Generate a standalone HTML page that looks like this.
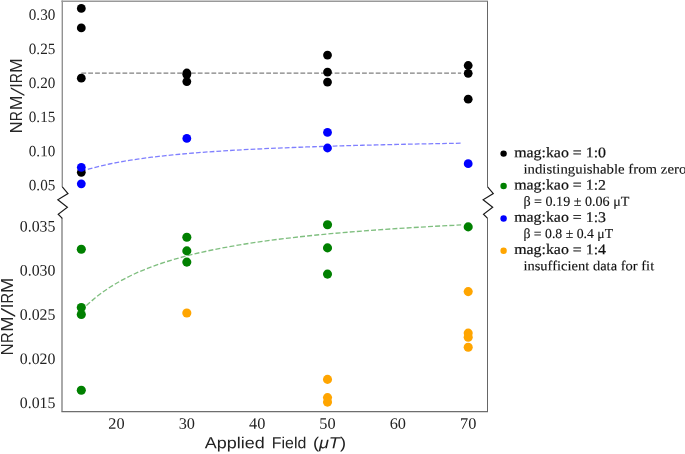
<!DOCTYPE html>
<html><head><meta charset="utf-8"><title>chart</title>
<style>html,body{margin:0;padding:0;background:#fff;overflow:hidden}body{width:685px;height:454px;font-family:"Liberation Sans",sans-serif}</style>
</head><body>
<svg width="685" height="454" viewBox="0 0 685 454" style="display:block">
<rect x="0" y="0" width="685" height="454" fill="#fff"/>
<path d="M81.40,73.2 L461.16,73.2" stroke="#000" stroke-opacity="0.5" stroke-dasharray="4.78 2.065" stroke-width="1.3" fill="none"/>
<path d="M81.30,310.62 L88.33,303.76 L95.37,297.71 L102.40,292.34 L109.44,287.53 L116.47,283.21 L123.51,279.30 L130.54,275.74 L137.58,272.49 L144.61,269.52 L151.64,266.78 L158.68,264.26 L165.71,261.92 L172.75,259.75 L179.78,257.73 L186.82,255.84 L193.85,254.07 L200.89,252.42 L207.92,250.87 L214.96,249.41 L221.99,248.03 L229.02,246.73 L236.06,245.49 L243.09,244.33 L250.13,243.22 L257.16,242.17 L264.20,241.17 L271.23,240.22 L278.27,239.31 L285.30,238.44 L292.34,237.62 L299.37,236.83 L306.40,236.07 L313.44,235.34 L320.47,234.64 L327.51,233.97 L334.54,233.33 L341.58,232.71 L348.61,232.12 L355.65,231.55 L362.68,231.00 L369.71,230.46 L376.75,229.95 L383.78,229.45 L390.82,228.98 L397.85,228.51 L404.89,228.07 L411.92,227.63 L418.96,227.21 L425.99,226.81 L433.03,226.41 L440.06,226.03 L447.09,225.66 L454.13,225.30 L461.16,224.95" stroke="#008000" stroke-opacity="0.5" stroke-dasharray="4.98 2.152" stroke-width="1.35" fill="none"/>
<path d="M81.30,171.40 L88.33,169.22 L95.37,167.28 L102.40,165.55 L109.44,164.00 L116.47,162.59 L123.51,161.32 L130.54,160.16 L137.58,159.10 L144.61,158.12 L151.64,157.22 L158.68,156.39 L165.71,155.61 L172.75,154.90 L179.78,154.23 L186.82,153.60 L193.85,153.01 L200.89,152.46 L207.92,151.94 L214.96,151.46 L221.99,150.99 L229.02,150.56 L236.06,150.15 L243.09,149.76 L250.13,149.38 L257.16,149.03 L264.20,148.69 L271.23,148.37 L278.27,148.07 L285.30,147.78 L292.34,147.50 L299.37,147.23 L306.40,146.97 L313.44,146.73 L320.47,146.49 L327.51,146.27 L334.54,146.05 L341.58,145.84 L348.61,145.64 L355.65,145.44 L362.68,145.26 L369.71,145.08 L376.75,144.90 L383.78,144.73 L390.82,144.57 L397.85,144.41 L404.89,144.26 L411.92,144.11 L418.96,143.97 L425.99,143.83 L433.03,143.70 L440.06,143.57 L447.09,143.44 L454.13,143.32 L461.16,143.20" stroke="#0000ff" stroke-opacity="0.5" stroke-dasharray="4.78 2.065" stroke-width="1.3" fill="none"/>
<circle cx="81.30" cy="8.40" r="4.4" fill="#000"/><circle cx="81.30" cy="27.90" r="4.4" fill="#000"/><circle cx="81.30" cy="78.20" r="4.4" fill="#000"/><circle cx="81.30" cy="172.30" r="4.4" fill="#000"/><circle cx="186.82" cy="73.00" r="4.4" fill="#000"/><circle cx="186.82" cy="74.60" r="4.4" fill="#000"/><circle cx="186.82" cy="81.60" r="4.4" fill="#000"/><circle cx="327.51" cy="55.10" r="4.4" fill="#000"/><circle cx="327.51" cy="72.10" r="4.4" fill="#000"/><circle cx="327.51" cy="82.10" r="4.4" fill="#000"/><circle cx="468.20" cy="65.50" r="4.4" fill="#000"/><circle cx="468.20" cy="73.30" r="4.4" fill="#000"/><circle cx="468.20" cy="99.20" r="4.4" fill="#000"/>

<circle cx="81.30" cy="249.30" r="4.55" fill="#008000"/><circle cx="81.30" cy="307.50" r="4.55" fill="#008000"/><circle cx="81.30" cy="314.50" r="4.55" fill="#008000"/><circle cx="81.30" cy="390.20" r="4.55" fill="#008000"/><circle cx="186.82" cy="237.20" r="4.55" fill="#008000"/><circle cx="186.82" cy="250.90" r="4.55" fill="#008000"/><circle cx="186.82" cy="262.10" r="4.55" fill="#008000"/><circle cx="327.51" cy="224.80" r="4.55" fill="#008000"/><circle cx="327.51" cy="247.90" r="4.55" fill="#008000"/><circle cx="327.51" cy="274.10" r="4.55" fill="#008000"/><circle cx="468.20" cy="226.90" r="4.55" fill="#008000"/>

<circle cx="81.30" cy="167.30" r="4.4" fill="#0000ff"/><circle cx="81.30" cy="183.80" r="4.4" fill="#0000ff"/><circle cx="186.82" cy="138.40" r="4.4" fill="#0000ff"/><circle cx="327.51" cy="132.40" r="4.4" fill="#0000ff"/><circle cx="327.51" cy="148.00" r="4.4" fill="#0000ff"/><circle cx="468.20" cy="163.70" r="4.4" fill="#0000ff"/>

<circle cx="186.82" cy="313.00" r="4.55" fill="#ffa500"/><circle cx="327.51" cy="379.40" r="4.55" fill="#ffa500"/><circle cx="327.51" cy="397.60" r="4.55" fill="#ffa500"/><circle cx="327.51" cy="402.10" r="4.55" fill="#ffa500"/><circle cx="468.20" cy="291.60" r="4.55" fill="#ffa500"/><circle cx="468.20" cy="333.10" r="4.55" fill="#ffa500"/><circle cx="468.20" cy="337.20" r="4.55" fill="#ffa500"/><circle cx="468.20" cy="347.30" r="4.55" fill="#ffa500"/>

<path d="M62.3,186.9 L62.3,0.5" stroke="#929292" stroke-width="1.4" fill="none"/><path d="M61.4,1.25 L488,1.25" stroke="#999" stroke-width="1.5" fill="none"/>
<path d="M487.5,1.25 L487.5,186.9" stroke="#666" stroke-width="1" fill="none"/>
<path d="M62.0,218.1 L62.0,411.5" stroke="#808080" stroke-width="1.35" fill="none"/>
<path d="M61.4,411.65 L488,411.65" stroke="#6e6e6e" stroke-width="1.2" fill="none"/>
<path d="M487.5,218.3 L487.5,412" stroke="#666" stroke-width="1" fill="none"/>
<path d="M62.3,186.9 L68.00,193.5 L57.80,199.8 L67.40,207.3 L58.20,214.2 L62.3,218.3" stroke="#1a1a1a" stroke-width="1.15" fill="none" stroke-linejoin="miter"/>
<path d="M487.6,186.9 L493.30,193.5 L483.10,199.8 L492.70,207.3 L483.50,214.2 L487.6,218.3" stroke="#1a1a1a" stroke-width="1.15" fill="none" stroke-linejoin="miter"/>
<circle cx="503.6" cy="153.60" r="3.2" fill="#000"/>
<circle cx="503.6" cy="185.95" r="3.2" fill="#008000"/>
<circle cx="503.6" cy="218.50" r="3.2" fill="#0000ff"/>
<circle cx="503.6" cy="250.70" r="3.2" fill="#ffa500"/>
<g style="filter:grayscale(1)">
<text transform="translate(28.80 19.85) rotate(0.05)" textLength="26.5" lengthAdjust="spacingAndGlyphs" font-family="Liberation Serif, serif" font-size="15.7" fill="#222">0.30</text>
<text transform="translate(28.80 53.92) rotate(0.05)" textLength="26.5" lengthAdjust="spacingAndGlyphs" font-family="Liberation Serif, serif" font-size="15.7" fill="#222">0.25</text>
<text transform="translate(28.80 87.99) rotate(0.05)" textLength="26.5" lengthAdjust="spacingAndGlyphs" font-family="Liberation Serif, serif" font-size="15.7" fill="#222">0.20</text>
<text transform="translate(28.80 122.06) rotate(0.05)" textLength="26.5" lengthAdjust="spacingAndGlyphs" font-family="Liberation Serif, serif" font-size="15.7" fill="#222">0.15</text>
<text transform="translate(28.80 156.13) rotate(0.05)" textLength="26.5" lengthAdjust="spacingAndGlyphs" font-family="Liberation Serif, serif" font-size="15.7" fill="#222">0.10</text>
<text transform="translate(28.80 190.20) rotate(0.05)" textLength="26.5" lengthAdjust="spacingAndGlyphs" font-family="Liberation Serif, serif" font-size="15.7" fill="#222">0.05</text>
<text transform="translate(19.75 231.40) rotate(0.05)" textLength="35.65" lengthAdjust="spacingAndGlyphs" font-family="Liberation Serif, serif" font-size="15.9" fill="#222">0.035</text>
<text transform="translate(19.75 275.57) rotate(0.05)" textLength="35.65" lengthAdjust="spacingAndGlyphs" font-family="Liberation Serif, serif" font-size="15.9" fill="#222">0.030</text>
<text transform="translate(19.75 319.74) rotate(0.05)" textLength="35.65" lengthAdjust="spacingAndGlyphs" font-family="Liberation Serif, serif" font-size="15.9" fill="#222">0.025</text>
<text transform="translate(19.75 363.91) rotate(0.05)" textLength="35.65" lengthAdjust="spacingAndGlyphs" font-family="Liberation Serif, serif" font-size="15.9" fill="#222">0.020</text>
<text transform="translate(19.75 408.08) rotate(0.05)" textLength="35.65" lengthAdjust="spacingAndGlyphs" font-family="Liberation Serif, serif" font-size="15.9" fill="#222">0.015</text>
<text transform="translate(108.32 428.80) rotate(0.05)" textLength="16.3" lengthAdjust="spacingAndGlyphs" font-family="Liberation Serif, serif" font-size="15.9" fill="#222">20</text>
<text transform="translate(178.67 428.80) rotate(0.05)" textLength="16.3" lengthAdjust="spacingAndGlyphs" font-family="Liberation Serif, serif" font-size="15.9" fill="#222">30</text>
<text transform="translate(249.01 428.80) rotate(0.05)" textLength="16.3" lengthAdjust="spacingAndGlyphs" font-family="Liberation Serif, serif" font-size="15.9" fill="#222">40</text>
<text transform="translate(319.36 428.80) rotate(0.05)" textLength="16.3" lengthAdjust="spacingAndGlyphs" font-family="Liberation Serif, serif" font-size="15.9" fill="#222">50</text>
<text transform="translate(389.70 428.80) rotate(0.05)" textLength="16.3" lengthAdjust="spacingAndGlyphs" font-family="Liberation Serif, serif" font-size="15.9" fill="#222">60</text>
<text transform="translate(460.05 428.80) rotate(0.05)" textLength="16.3" lengthAdjust="spacingAndGlyphs" font-family="Liberation Serif, serif" font-size="15.9" fill="#222">70</text>
<g transform="translate(22.4,133.2) rotate(-90) scale(1.0)" font-family="Liberation Sans, sans-serif" font-size="16" fill="#262626"><text transform="translate(0.061,0) scale(1.02,1)" x="0" y="0">N</text><text transform="translate(12.045,0) scale(0.88,1)" x="0" y="0">R</text><text transform="translate(22.900,0) scale(1.105,1)" x="0" y="0">M</text><text transform="translate(45.473,0) scale(1.0,1)" x="0" y="0">I</text><text transform="translate(50.045,0) scale(0.88,1)" x="0" y="0">R</text><text transform="translate(60.200,0) scale(1.105,1)" x="0" y="0">M</text><polygon points="37.2,2.0 38.7,2.0 45.9,-11.6 44.4,-11.6"/></g>
<g transform="translate(13.1,355.6) rotate(-90) scale(1.04)" font-family="Liberation Sans, sans-serif" font-size="16" fill="#262626"><text transform="translate(0.061,0) scale(1.02,1)" x="0" y="0">N</text><text transform="translate(12.045,0) scale(0.88,1)" x="0" y="0">R</text><text transform="translate(22.900,0) scale(1.105,1)" x="0" y="0">M</text><text transform="translate(45.473,0) scale(1.0,1)" x="0" y="0">I</text><text transform="translate(50.045,0) scale(0.88,1)" x="0" y="0">R</text><text transform="translate(60.200,0) scale(1.105,1)" x="0" y="0">M</text><polygon points="37.2,2.0 38.7,2.0 45.9,-11.6 44.4,-11.6"/></g>
<text transform="translate(204.80 448.15) rotate(0.05)" textLength="59.9" lengthAdjust="spacingAndGlyphs" font-family="Liberation Sans, sans-serif" font-size="16" fill="#222">Applied</text>
<text transform="translate(271.80 448.15) rotate(0.05)" textLength="34.5" lengthAdjust="spacingAndGlyphs" font-family="Liberation Sans, sans-serif" font-size="16" fill="#222">Field</text>
<text transform="translate(312.90 448.15) rotate(0.05)" textLength="33.1" lengthAdjust="spacingAndGlyphs" font-family="Liberation Sans, sans-serif" font-size="16" fill="#222">(<tspan font-style="italic">μT</tspan>)</text>
<text transform="translate(514.20 157.30) rotate(0.05)" textLength="91.8" lengthAdjust="spacingAndGlyphs" font-family="Liberation Serif, serif" font-size="14.67" fill="#111" stroke="#111" stroke-width="0.22">mag:kao = 1:0</text>
<text transform="translate(523.40 173.43) rotate(0.05)" textLength="162.9" lengthAdjust="spacingAndGlyphs" font-family="Liberation Serif, serif" font-size="13.7" fill="#111" stroke="#111" stroke-width="0.12">indistinguishable from zero</text>
<text transform="translate(514.20 189.56) rotate(0.05)" textLength="91.8" lengthAdjust="spacingAndGlyphs" font-family="Liberation Serif, serif" font-size="14.67" fill="#111" stroke="#111" stroke-width="0.22">mag:kao = 1:2</text>
<text transform="translate(523.40 205.69) rotate(0.05)" textLength="105.9" lengthAdjust="spacingAndGlyphs" font-family="Liberation Serif, serif" font-size="13.7" fill="#111" stroke="#111" stroke-width="0.12">β = 0.19 ± 0.06 μT</text>
<text transform="translate(514.20 221.82) rotate(0.05)" textLength="91.8" lengthAdjust="spacingAndGlyphs" font-family="Liberation Serif, serif" font-size="14.67" fill="#111" stroke="#111" stroke-width="0.22">mag:kao = 1:3</text>
<text transform="translate(523.40 237.95) rotate(0.05)" textLength="89.7" lengthAdjust="spacingAndGlyphs" font-family="Liberation Serif, serif" font-size="13.7" fill="#111" stroke="#111" stroke-width="0.12">β = 0.8 ± 0.4 μT</text>
<text transform="translate(514.20 254.08) rotate(0.05)" textLength="91.8" lengthAdjust="spacingAndGlyphs" font-family="Liberation Serif, serif" font-size="14.67" fill="#111" stroke="#111" stroke-width="0.22">mag:kao = 1:4</text>
<text transform="translate(523.40 270.21) rotate(0.05)" textLength="130.8" lengthAdjust="spacingAndGlyphs" font-family="Liberation Serif, serif" font-size="13.7" fill="#111" stroke="#111" stroke-width="0.12">insufficient data for fit</text>
</g>
</svg>
</body></html>
